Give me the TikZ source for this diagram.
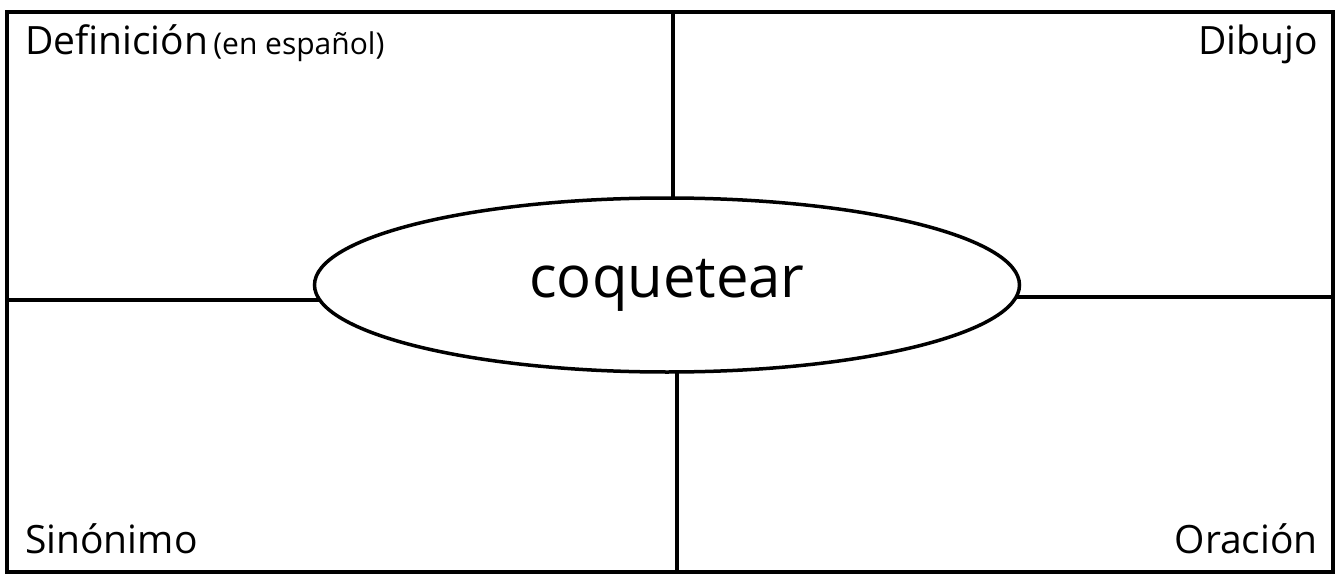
\documentclass[tikz,border=0pt]{standalone}
\usepackage{fontspec}
\setmainfont{Open Sans}
\usetikzlibrary{shapes.geometric,backgrounds}
\tikzset{
  frame/.style={line width=4pt},
  divider/.style={line width=3.5pt},
  bubble/.style={ellipse,draw,line width=3.5pt,fill=white,minimum width=705pt,minimum height=174pt,inner sep=0pt,font=\fontsize{58}{66}\selectfont},
  label/.style={inner sep=0pt,font=\fontsize{39}{44}\selectfont}
}
\begin{document}
\begin{tikzpicture}[x=1pt,y=-1pt]
\useasboundingbox (0,0) rectangle (1342,586);
\draw[frame] (7,12) rectangle (1333,572);
\node[bubble] (e) at (667,285) {coquetear};
\coordinate (t) at (673,12);
\coordinate (b) at (677,572);
\coordinate (l) at (7,300);
\coordinate (r) at (1333,297);
\begin{scope}[on background layer]
\draw[divider] (t) -- (t |- e.center);
\draw[divider] (b) -- (b |- e.center);
\draw[divider] (l) -- (l -| e.center);
\draw[divider] (r) -- (r -| e.center);
\end{scope}
\node[label,anchor=base west] (def) at (25,55) {Definición{\fontsize{30}{34}\selectfont\,(en español)}};
\node[label,anchor=base east] (dib) at (1318,55) {Dibujo};
\node[label,anchor=base west] (sin) at (25,553) {Sinónimo};
\node[label,anchor=base east] (ora) at (1318,553) {Oración};
\end{tikzpicture}
\end{document}
